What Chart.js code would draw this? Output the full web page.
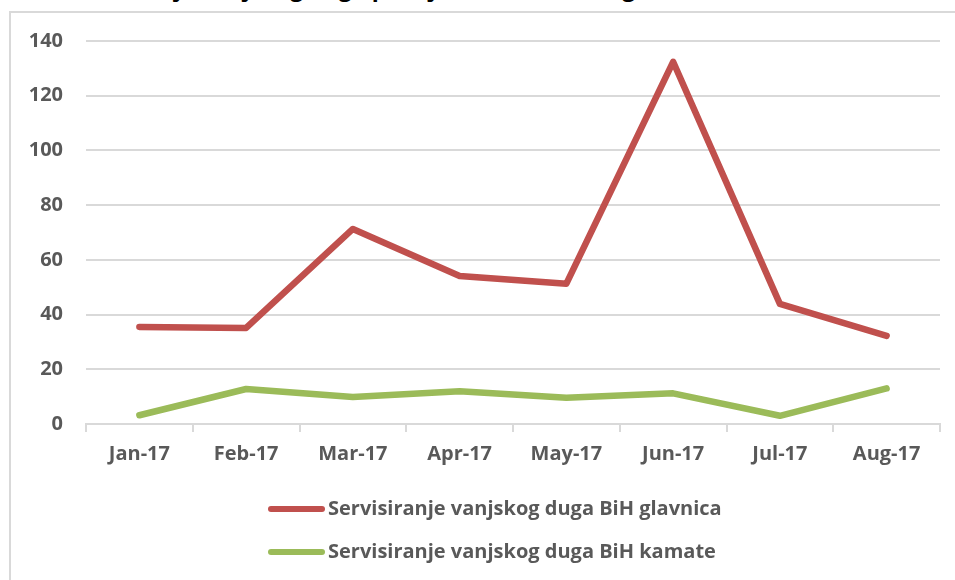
<!DOCTYPE html>
<html>
<head>
    <title>Servisiranje vanjskog duga BiH</title>
    <style type="text/css">
        body { margin: 0; background: #ffffff; overflow: hidden; }
        .frame {
            position: absolute; left: 9px; top: 11px; width: 1000px; height: 620px;
            border: 2px solid #d9d9d9;
        }
        .title {
            position: absolute; left: 0; top: -29px; width: 955px; text-align: center;
            font: bold 23px "Open Sans", sans-serif; color: #000000; white-space: nowrap;
        }
        #Chart { position: absolute; left: 0; top: 0; }
        .legend {
            position: absolute; left: 268px; top: 492px;
            font: bold 20px "Open Sans", sans-serif; color: #595959;
        }
        .legend div { height: 43px; line-height: 32px; white-space: nowrap; }
        .legend span {
            display: inline-block; width: 57px; height: 6px; border-radius: 3px;
            margin-right: 3px; vertical-align: middle; position: relative; top: -1px;
        }
    </style>
    <script src="https://cdn.jsdelivr.net/npm/chart.js@4/dist/chart.umd.min.js"></script>
</head>
<body>
    <div class="title">Servisiranje vanjskog duga po mjesecima u 2017. godini (u milionima KM)</div>
    <div class="frame"></div>
    <canvas id="Chart" width="955" height="580"></canvas>
    <div class="legend" id="legend"></div>
    <script>
        // values (mil. KM)
        var months = ['Jan-17', 'Feb-17', 'Mar-17', 'Apr-17', 'May-17', 'Jun-17', 'Jul-17', 'Aug-17'];
        var glavnica = [35.5, 35.1, 71.3, 54.1, 51.3, 132.4, 43.9, 32.2];
        var kamate = [3.2, 12.8, 9.9, 12.0, 9.6, 11.2, 3.0, 13.0];
        var yTicks = [0, 20, 40, 60, 80, 100, 120, 140];

        var labelColor = '#595959';
        var gridColor = '#d9d9d9';
        var font = { family: '"Open Sans", sans-serif', weight: 'bold', size: 20 };

        var ctx = document.getElementById('Chart').getContext('2d');
        var chart = new Chart(ctx, {
            type: 'line',
            data: {
                labels: months,
                datasets: [{
                    label: 'Servisiranje vanjskog duga BiH glavnica',
                    data: glavnica,
                    borderColor: '#c0504d',
                    backgroundColor: '#c0504d',
                    borderWidth: 6.5,
                    borderCapStyle: 'round',
                    borderJoinStyle: 'round',
                    pointRadius: 0,
                    tension: 0
                }, {
                    label: 'Servisiranje vanjskog duga BiH kamate',
                    data: kamate,
                    borderColor: '#9bbb59',
                    backgroundColor: '#9bbb59',
                    borderWidth: 6.5,
                    borderCapStyle: 'round',
                    borderJoinStyle: 'round',
                    pointRadius: 0,
                    tension: 0
                }]
            },
            options: {
                responsive: false,
                animation: false,
                layout: { padding: { top: 41, right: 15, left: 0, bottom: 104 } },
                plugins: {
                    tooltip: { enabled: false },
                    legend: { display: false }
                },
                scales: {
                    x: {
                        offset: true,
                        afterFit: function (scale) { scale.height = 52; },
                        grid: {
                            offset: true,
                            drawOnChartArea: false,
                            drawTicks: true,
                            tickLength: 8,
                            color: gridColor,
                            lineWidth: 2
                        },
                        border: { color: gridColor, width: 2 },
                        ticks: { color: labelColor, font: font, padding: 10, maxRotation: 0 }
                    },
                    y: {
                        min: 0,
                        max: 140,
                        afterFit: function (scale) { scale.width = 86; },
                        afterBuildTicks: function (scale) {
                            scale.ticks = yTicks.map(function (v) { return { value: v }; });
                        },
                        grid: { color: gridColor, lineWidth: 2, drawTicks: false },
                        border: { display: false },
                        ticks: { color: labelColor, font: font, padding: 23 }
                    }
                }
            }
        });

        // legend stacked in two rows, built from the chart's datasets
        var legendHtml = '';
        chart.data.datasets.forEach(function (ds) {
            legendHtml += '<div><span style="background:' + ds.borderColor + '"></span>' + ds.label + '</div>';
        });
        document.getElementById('legend').innerHTML = legendHtml;
    </script>
</body>
</html>
